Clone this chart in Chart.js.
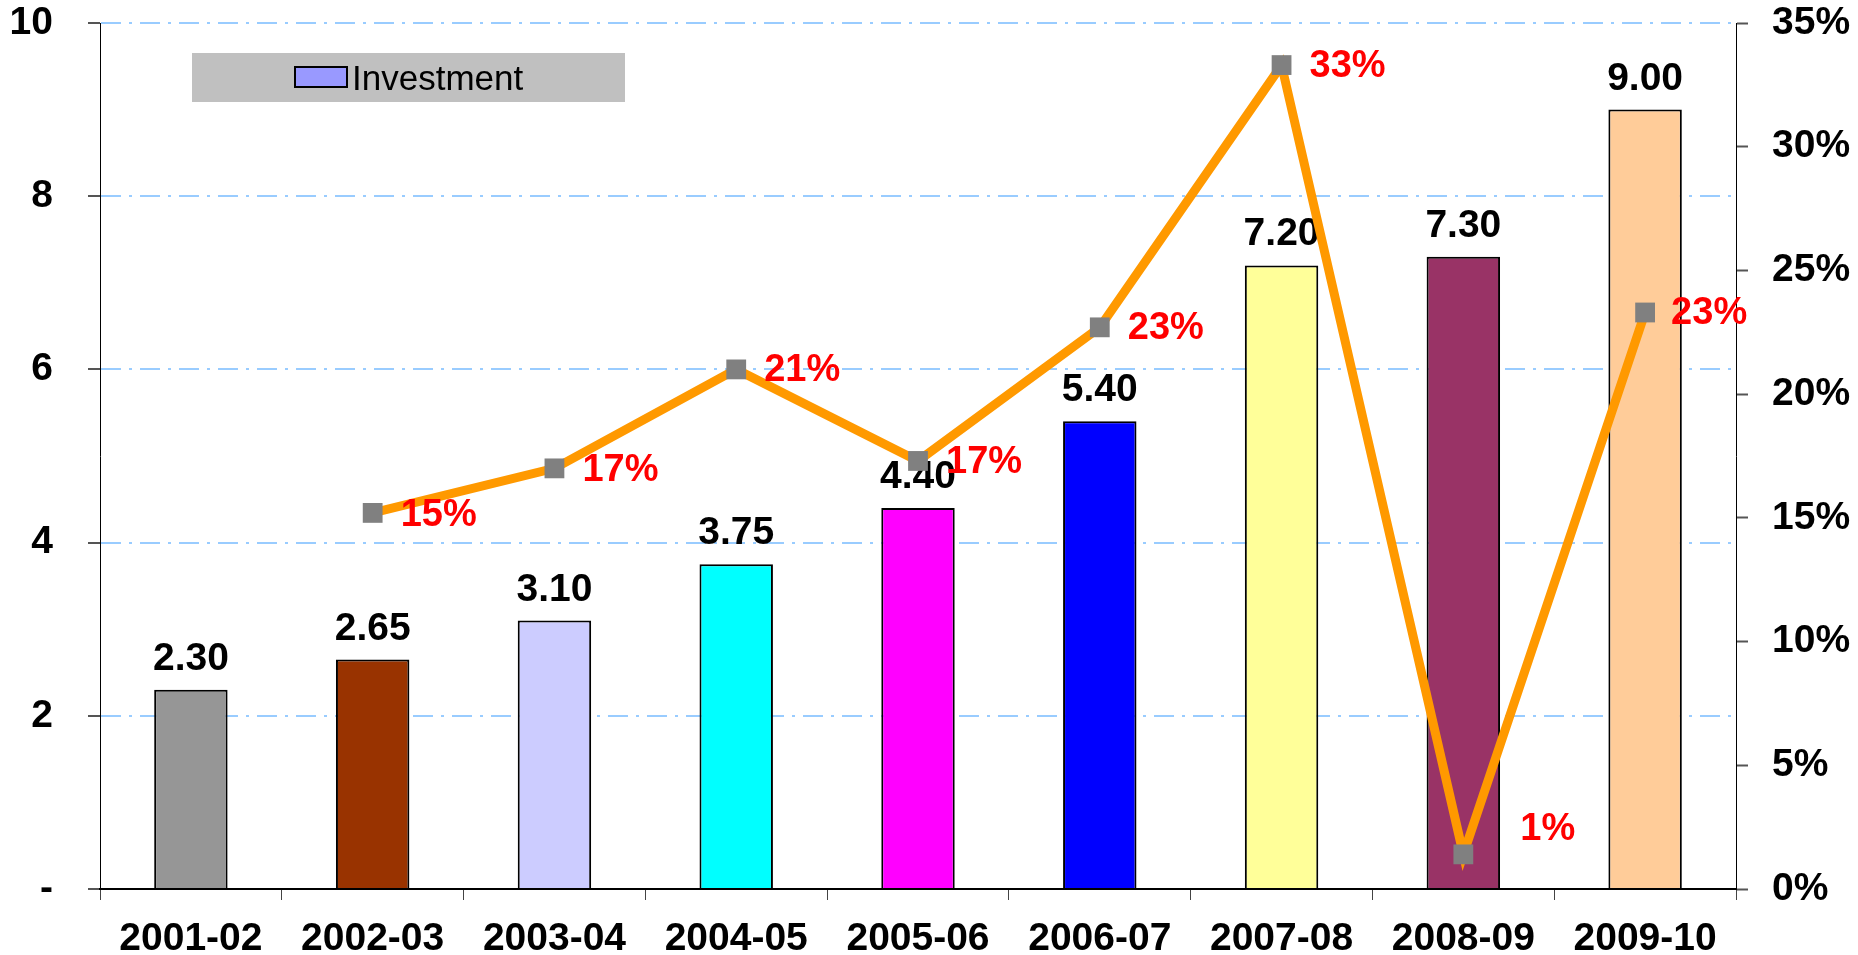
<!DOCTYPE html>
<html lang="en">
<head>
    <meta charset="UTF-8">
    <title>Investment</title>
    <script src="https://cdn.jsdelivr.net/npm/chart.js"></script>
    <style>
        html, body { margin: 0; padding: 0; background: #fff; }
        #wrap { width: 1858px; height: 955px; }
    </style>
</head>
<body>
    <div id="wrap">
        <canvas id="myChart" width="1858" height="955"></canvas>
    </div>

    <script>
        // chart data
        const years = ['2001-02', '2002-03', '2003-04', '2004-05', '2005-06', '2006-07', '2007-08', '2008-09', '2009-10'];
        const investment = [2.30, 2.65, 3.10, 3.75, 4.40, 5.40, 7.20, 7.30, 9.00];
        const growthPct = [null, 15.2, 17.0, 21.0, 17.3, 22.7, 33.3, 1.4, 23.3];
        const growthLabels = ['', '15%', '17%', '21%', '17%', '23%', '33%', '1%', '23%'];
        const barColors = ['#969696', '#993300', '#CCCCFF', '#00FFFF', '#FF00FF', '#0000FF', '#FFFF99', '#993366', '#FFCC99'];
        const leftTicks = [0, 2, 4, 6, 8, 10];
        const rightTicks = [0, 5, 10, 15, 20, 25, 30, 35];

        const FONT = '"Liberation Sans", Arial, sans-serif';

        // where the red % labels sit relative to their marker
        const pctOffsets = [null, [28, 3], [28, 2], [28, 1], [28, 2], [28, 1], [28, 1], [57, -25], [26, 1]];

        const legendBox = {
            id: 'legendBox',
            beforeDatasetsDraw(chart) {
                const { ctx, chartArea } = chart;
                const x = chartArea.left + 92, y = chartArea.top + 30;
                ctx.save();
                ctx.fillStyle = '#C0C0C0';
                ctx.fillRect(x, y, 433, 49);
                ctx.fillStyle = '#9999FF';
                ctx.fillRect(x + 103, y + 14, 52, 20);
                ctx.strokeStyle = '#000';
                ctx.lineWidth = 2;
                ctx.strokeRect(x + 103, y + 14, 52, 20);
                ctx.fillStyle = '#000';
                ctx.font = '35px ' + FONT;
                ctx.textBaseline = 'alphabetic';
                ctx.fillText('Investment', x + 160, y + 37);
                ctx.restore();
            }
        };

        const valueLabels = {
            id: 'valueLabels',
            afterDatasetDraw(chart, args) {
                const { ctx } = chart;
                if (args.index === 0) {
                    ctx.save();
                    ctx.font = 'bold 39px ' + FONT;
                    ctx.fillStyle = '#000';
                    ctx.textAlign = 'center';
                    ctx.textBaseline = 'alphabetic';
                    args.meta.data.forEach((bar, i) => {
                        ctx.fillText(investment[i].toFixed(2), bar.x, bar.y - 20);
                    });
                    ctx.restore();
                }
            },
            afterDatasetsDraw(chart) {
                const { ctx } = chart;
                const meta = chart.getDatasetMeta(1);
                ctx.save();
                ctx.font = 'bold 38px ' + FONT;
                ctx.fillStyle = '#FF0000';
                ctx.textAlign = 'left';
                ctx.textBaseline = 'middle';
                meta.data.forEach((pt, i) => {
                    if (growthPct[i] === null) return;
                    const off = pctOffsets[i];
                    ctx.fillText(growthLabels[i], pt.x + off[0], pt.y + off[1]);
                });
                ctx.restore();
            }
        };

        const fitY = w => s => { s.width = w; s.paddingTop = 0; s.paddingBottom = 0; };

        const ctx = document.getElementById('myChart').getContext('2d');
        const myChart = new Chart(ctx, {
            type: 'bar',
            data: {
                labels: years,
                datasets: [
                    {
                        type: 'bar',
                        label: 'Investment',
                        data: investment,
                        backgroundColor: barColors,
                        borderColor: '#000',
                        borderWidth: 2,
                        categoryPercentage: 1,
                        barPercentage: 0.404,
                        yAxisID: 'y',
                        order: 2
                    },
                    {
                        type: 'line',
                        label: 'Growth',
                        data: growthPct,
                        borderColor: '#FF9900',
                        borderWidth: 9,
                        borderJoinStyle: 'miter',
                        pointStyle: 'rect',
                        pointRadius: 14,
                        pointBackgroundColor: '#808080',
                        pointBorderColor: '#808080',
                        pointBorderWidth: 0,
                        tension: 0,
                        spanGaps: false,
                        yAxisID: 'y2',
                        order: 1
                    }
                ]
            },
            options: {
                responsive: false,
                animation: false,
                events: [],
                layout: { padding: { top: 23, left: 0, right: 0, bottom: 0 } },
                plugins: {
                    legend: { display: false },
                    tooltip: { enabled: false }
                },
                scales: {
                    x: {
                        afterFit: s => { s.height = 66; s.paddingLeft = 0; s.paddingRight = 0; },
                        grid: {
                            offset: true,
                            drawOnChartArea: false,
                            drawTicks: true,
                            tickLength: 11,
                            tickColor: '#444'
                        },
                        border: { color: '#000', width: 2 },
                        ticks: {
                            color: '#000',
                            padding: 16,
                            font: { family: FONT, size: 39, weight: 'bold' }
                        }
                    },
                    y: {
                        position: 'left',
                        min: 0,
                        max: 10,
                        afterFit: fitY(100),
                        afterBuildTicks: s => { s.ticks = leftTicks.map(v => ({ value: v })); },
                        grid: {
                            color: c => (c.tick && c.tick.value === 0) ? 'rgba(0,0,0,0)' : '#99CCFF',
                            lineWidth: 2,
                            tickColor: '#555',
                            tickLength: 12,
                            tickWidth: 2
                        },
                        border: { color: '#000', width: 1, dash: [20, 8, 3, 8] },
                        ticks: {
                            color: '#000',
                            padding: 35,
                            font: { family: FONT, size: 39, weight: 'bold' },
                            callback: v => v === 0 ? '-' : String(v)
                        }
                    },
                    y2: {
                        position: 'right',
                        min: 0,
                        max: 35,
                        afterFit: fitY(122),
                        afterBuildTicks: s => { s.ticks = rightTicks.map(v => ({ value: v })); },
                        grid: {
                            drawOnChartArea: false,
                            tickColor: '#555',
                            tickLength: 12,
                            tickWidth: 2
                        },
                        border: { color: '#000', width: 1 },
                        ticks: {
                            color: '#000',
                            padding: 24,
                            font: { family: FONT, size: 39, weight: 'bold' },
                            callback: v => v + '%'
                        }
                    }
                }
            },
            plugins: [legendBox, valueLabels]
        });
    </script>
</body>
</html>
